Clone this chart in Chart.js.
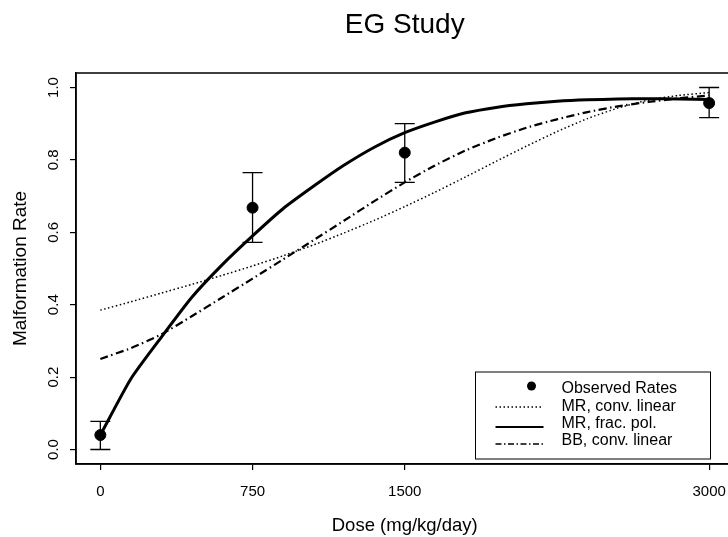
<!DOCTYPE html>
<html>
<head>
<meta charset="utf-8">
<script src="https://cdn.jsdelivr.net/npm/chart.js@4.4.0/dist/chart.umd.min.js"></script>
<style>
  html, body { margin: 0; padding: 0; background: #fff; overflow: hidden; }
  #wrap { width: 740px; height: 537px; }
</style>
</head>
<body>
<div id="wrap"><canvas id="c" width="740" height="537"></canvas></div>
<script>
// observed data
const doses = [0, 750, 1500, 3000];
const observedRates = [0.04, 0.668, 0.82, 0.957];
const ciLower = [0.0, 0.572, 0.738, 0.917];
const ciUpper = [0.078, 0.765, 0.90, 1.0];

// fitted curves
const curveDoses = [0, 150, 300, 450, 600, 750, 900, 1050, 1200, 1350, 1500,
                    1650, 1800, 1950, 2100, 2250, 2400, 2550, 2700, 2850, 3000];
const mrConvLinear = [0.385, 0.408, 0.432, 0.456, 0.481, 0.507, 0.535, 0.565, 0.598, 0.633, 0.671,
                      0.711, 0.753, 0.796, 0.838, 0.878, 0.914, 0.943, 0.965, 0.978, 0.986];
const mrFracPol = [0.04, 0.195, 0.31, 0.42, 0.51, 0.59, 0.665, 0.727, 0.785, 0.835, 0.875,
                   0.905, 0.93, 0.945, 0.955, 0.962, 0.966, 0.968, 0.969, 0.968, 0.967];
const bbConvLinear = [0.25, 0.28, 0.318, 0.368, 0.42, 0.472, 0.525, 0.578, 0.632, 0.686, 0.738,
                      0.785, 0.826, 0.86, 0.889, 0.912, 0.932, 0.948, 0.96, 0.97, 0.978];

const xTickValues = [0, 750, 1500, 3000];
const yTickValues = [0, 0.2, 0.4, 0.6, 0.8, 1.0];

const FONT = 'Liberation Sans, Arial, Helvetica, sans-serif';

function pts(xs, ys) {
  return xs.map((x, i) => ({ x: x, y: ys[i] }));
}

// error bars, box, title and legend drawn the R way
const rPlot = {
  id: 'rPlot',
  afterDatasetsDraw(chart) {
    const ctx = chart.ctx, a = chart.chartArea;
    const xs = chart.scales.x, ys = chart.scales.y;
    ctx.save();
    ctx.strokeStyle = '#000';
    ctx.fillStyle = '#000';

    // error bars
    ctx.lineWidth = 1.3;
    doses.forEach((d, i) => {
      const px = xs.getPixelForValue(d);
      const lo = ys.getPixelForValue(ciLower[i]);
      const hi = ys.getPixelForValue(ciUpper[i]);
      ctx.beginPath();
      ctx.moveTo(px, lo); ctx.lineTo(px, hi);
      ctx.moveTo(px - 10, lo); ctx.lineTo(px + 10, lo);
      ctx.moveTo(px - 10, hi); ctx.lineTo(px + 10, hi);
      ctx.stroke();
    });

    // plot box
    ctx.lineWidth = 1.5;
    ctx.strokeRect(a.left, a.top, a.right - a.left, a.bottom - a.top);

    // title
    ctx.font = '28px ' + FONT;
    ctx.textAlign = 'center';
    ctx.textBaseline = 'middle';
    ctx.fillText('EG Study', (a.left + a.right) / 2, 25);

    // legend
    const lx = a.right - 258, ly = a.bottom - 92;
    ctx.lineWidth = 1;
    ctx.strokeRect(lx, ly, 235, 87);
    ctx.font = '16px ' + FONT;
    ctx.textAlign = 'left';
    const tx = lx + 86;
    const rows = [
      { text: 'Observed Rates', ty: 17, sy: 14 },
      { text: 'MR, conv. linear', ty: 35, sy: 35, width: 1.3, dash: [1.5, 2.5] },
      { text: 'MR, frac. pol.', ty: 52, sy: 55, width: 2, dash: [] },
      { text: 'BB, conv. linear', ty: 69, sy: 72, width: 1.3, dash: [6, 2.5, 1.5, 2.5] }
    ];
    rows.forEach((r, i) => {
      ctx.fillText(r.text, tx, ly + r.ty);
      if (i === 0) {
        ctx.beginPath();
        ctx.arc(lx + 56, ly + r.sy, 4.5, 0, Math.PI * 2);
        ctx.fill();
      } else {
        ctx.lineWidth = r.width;
        ctx.setLineDash(r.dash);
        ctx.beginPath();
        ctx.moveTo(lx + 20, ly + r.sy);
        ctx.lineTo(lx + 68, ly + r.sy);
        ctx.stroke();
        ctx.setLineDash([]);
      }
    });
    ctx.restore();
  }
};

const ctx = document.getElementById('c').getContext('2d');
const chart = new Chart(ctx, {
  type: 'scatter',
  data: {
    datasets: [
      {
        type: 'line', label: 'MR, conv. linear',
        data: pts(curveDoses, mrConvLinear),
        borderColor: '#000', borderWidth: 1.5, borderDash: [1.5, 2.5],
        pointRadius: 0, fill: false, tension: 0.2
      },
      {
        type: 'line', label: 'MR, frac. pol.',
        data: pts(curveDoses, mrFracPol),
        borderColor: '#000', borderWidth: 3,
        pointRadius: 0, fill: false, tension: 0.2
      },
      {
        type: 'line', label: 'BB, conv. linear',
        data: pts(curveDoses, bbConvLinear),
        borderColor: '#000', borderWidth: 2.2, borderDash: [8, 3.5, 1.5, 3.5],
        pointRadius: 0, fill: false, tension: 0.2
      },
      {
        label: 'Observed Rates',
        data: pts(doses, observedRates),
        backgroundColor: '#000', borderColor: '#000',
        pointRadius: 5.5, showLine: false
      }
    ]
  },
  options: {
    responsive: false,
    animation: false,
    devicePixelRatio: 1,
    layout: { padding: { top: 73, right: 5, left: 0, bottom: 0 } },
    plugins: {
      legend: { display: false },
      tooltip: { enabled: false }
    },
    scales: {
      x: {
        type: 'linear', min: -120, max: 3120,
        afterBuildTicks: s => { s.ticks = xTickValues.map(v => ({ value: v })); },
        afterFit: s => { s.height = 73; s.paddingLeft = 0; s.paddingRight = 0; },
        grid: { drawOnChartArea: false, drawTicks: true, tickLength: 6, color: '#000', lineWidth: 1.2 },
        border: { display: true, color: '#000', width: 1.5 },
        ticks: {
          autoSkip: false, maxRotation: 0, padding: 13, color: '#000',
          font: { family: FONT, size: 15 },
          callback: v => String(v)
        },
        title: {
          display: true, text: 'Dose (mg/kg/day)', color: '#000',
          font: { family: FONT, size: 18.5 }, padding: { top: 0, bottom: 0 }
        }
      },
      y: {
        type: 'linear', min: -0.04, max: 1.04,
        afterBuildTicks: s => { s.ticks = yTickValues.map(v => ({ value: v })); },
        afterFit: s => { s.width = 76; s.paddingTop = 0; s.paddingBottom = 0; },
        grid: { drawOnChartArea: false, drawTicks: true, tickLength: 6, color: '#000', lineWidth: 1.2 },
        border: { display: true, color: '#000', width: 1.5 },
        ticks: {
          autoSkip: false, minRotation: 90, maxRotation: 90, crossAlign: 'center',
          padding: 6, color: '#000',
          font: { family: FONT, size: 15 },
          callback: v => v.toFixed(1)
        },
        title: {
          display: true, text: 'Malformation Rate', color: '#000',
          font: { family: FONT, size: 19 }, padding: { top: 9, bottom: 0 }
        }
      }
    }
  },
  plugins: [rPlot]
});
</script>
</body>
</html>
